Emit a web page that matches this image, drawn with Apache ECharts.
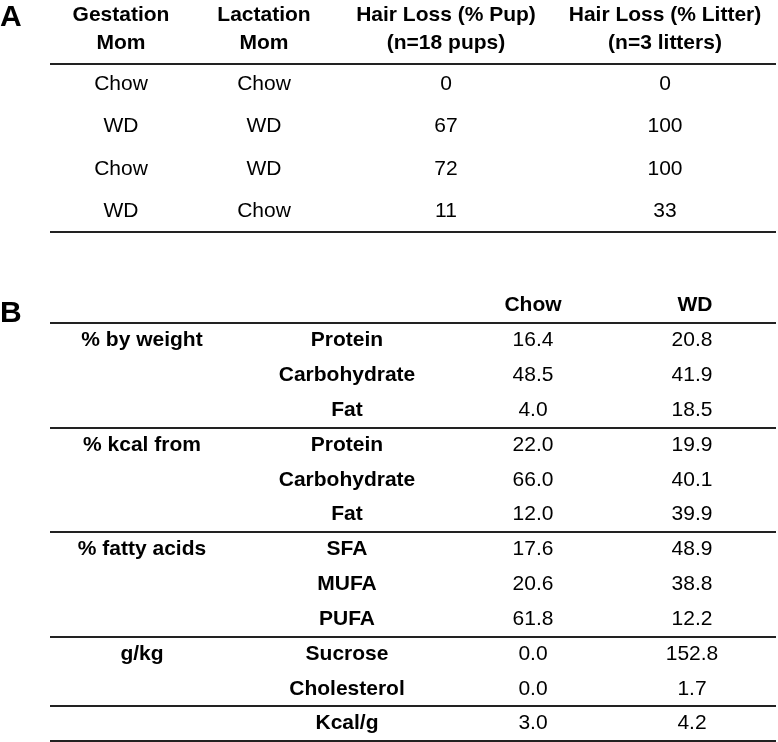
<!DOCTYPE html>
<html>
<head>
<meta charset="utf-8">
<script src="https://cdn.jsdelivr.net/npm/echarts@6/dist/echarts.min.js"></script>
<style>
html,body{margin:0;padding:0;background:#fff;}
#chart{width:778px;height:742px;}
</style>
</head>
<body>
<div id="chart"></div>
<script>
// ---------- DATA: Table A ----------
const headersA = ['Gestation\nMom', 'Lactation\nMom', 'Hair Loss (% Pup)\n(n=18 pups)', 'Hair Loss (% Litter)\n(n=3 litters)'];
const gestationMom = ['Chow', 'WD', 'Chow', 'WD'];
const lactationMom = ['Chow', 'WD', 'WD', 'Chow'];
const hairLossPup = [0, 67, 72, 11];
const hairLossLitter = [0, 100, 100, 33];

// ---------- DATA: Table B ----------
const headersB = ['Chow', 'WD'];
const groupLabels = ['% by weight', '% kcal from', '% fatty acids', 'g/kg', ''];
const groupSizes = [3, 3, 3, 2, 1];
const components = ['Protein', 'Carbohydrate', 'Fat', 'Protein', 'Carbohydrate', 'Fat', 'SFA', 'MUFA', 'PUFA', 'Sucrose', 'Cholesterol', 'Kcal/g'];
const chowValues = [16.4, 48.5, 4.0, 22.0, 66.0, 12.0, 17.6, 20.6, 61.8, 0.0, 0.0, 3.0];
const wdValues = [20.8, 41.9, 18.5, 19.9, 40.1, 39.9, 48.9, 38.8, 12.2, 152.8, 1.7, 4.2];

// ---------- LAYOUT (positions & styles) ----------
const FONT = '"Liberation Sans", Arial, sans-serif';
const FS = 21;
const TEXT = '#000';
const RULE = '#222';
const layoutA = { colX: [71, 214, 396, 615], headerRow: -1.30, yMin: -2, yMax: 3.5 };
const layoutB = { colX: [92, 297, 483, 642], headerX: [483, 645], headerRow: -1.0, yMin: -1.5, yMax: 11.5 };

const series = [];
function textSeries(gridIndex, items, bold, extra) {
  series.push({
    type: 'scatter',
    xAxisIndex: gridIndex, yAxisIndex: gridIndex,
    symbolSize: 1, silent: true, animation: false,
    itemStyle: { color: 'rgba(0,0,0,0)', opacity: 1 },
    emphasis: { disabled: true },
    label: Object.assign({
      show: true, position: 'inside', align: 'center', verticalAlign: 'middle',
      fontFamily: FONT, fontSize: FS, color: TEXT, opacity: 1,
      textBorderWidth: 0, fontWeight: bold ? 'bold' : 'normal',
      formatter: p => p.value[2]
    }, extra || {}),
    data: items
  });
}
function ruleSeries(gridIndex, rows) {
  series.push({
    type: 'scatter', xAxisIndex: gridIndex, yAxisIndex: gridIndex,
    data: [], silent: true, animation: false,
    markLine: {
      silent: true, symbol: 'none', animation: false,
      label: { show: false },
      lineStyle: { type: 'solid', color: RULE, width: 2, opacity: 1 },
      data: rows.map(v => ({ yAxis: v }))
    }
  });
}

// Table A
textSeries(0, headersA.map((h, i) => [layoutA.colX[i], layoutA.headerRow, h]), true, { lineHeight: 28 });
const colsA = [gestationMom, lactationMom, hairLossPup, hairLossLitter];
colsA.forEach((col, ci) => {
  textSeries(0, col.map((v, r) => [layoutA.colX[ci], r, String(v)]), false);
});
ruleSeries(0, [-0.5, gestationMom.length - 0.5]);

// Table B
textSeries(1, headersB.map((h, i) => [layoutB.headerX[i], layoutB.headerRow, h]), true);
const groupItems = [];
const groupRules = [-0.5];
let start = 0;
groupLabels.forEach((g, gi) => {
  if (g) groupItems.push([layoutB.colX[0], start, g]);
  start += groupSizes[gi];
  groupRules.push(start - 0.5);
});
textSeries(1, groupItems, true);
textSeries(1, components.map((c, r) => [layoutB.colX[1], r, c]), true);
textSeries(1, chowValues.map((v, r) => [layoutB.colX[2], r, v.toFixed(1)]), false);
textSeries(1, wdValues.map((v, r) => [layoutB.colX[3], r, v.toFixed(1)]), false);
ruleSeries(1, groupRules);

const hiddenX = { type: 'value', min: 0, max: 726, show: false };
const chart = echarts.init(document.getElementById('chart'), null, { renderer: 'canvas' });
chart.setOption({
  animation: false,
  backgroundColor: '#fff',
  title: [
    { text: 'A', left: 0, top: 3, padding: 0, textStyle: { fontFamily: FONT, fontSize: 30, fontWeight: 'bold', color: '#000' } },
    { text: 'B', left: 0, top: 299, padding: 0, textStyle: { fontFamily: FONT, fontSize: 30, fontWeight: 'bold', color: '#000' } }
  ],
  grid: [
    { left: 50, width: 726, top: 0, height: 232 },
    { left: 50, width: 726, top: 288.2, height: 452.8 }
  ],
  xAxis: [Object.assign({ gridIndex: 0 }, hiddenX), Object.assign({ gridIndex: 1 }, hiddenX)],
  yAxis: [
    { type: 'value', gridIndex: 0, min: layoutA.yMin, max: layoutA.yMax, inverse: true, show: false },
    { type: 'value', gridIndex: 1, min: layoutB.yMin, max: layoutB.yMax, inverse: true, show: false }
  ],
  series: series
});
</script>
</body>
</html>
